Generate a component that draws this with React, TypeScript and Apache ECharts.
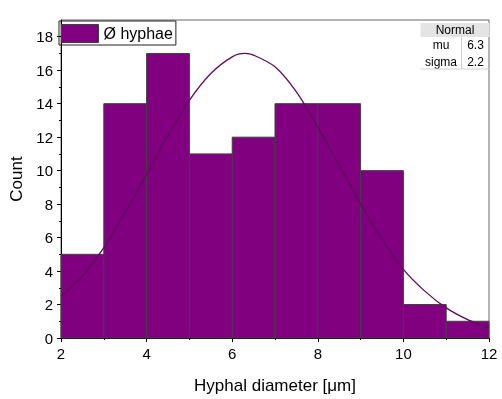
import React, { useEffect, useRef } from "react";
import * as echarts from "echarts";

const binStarts = [2, 3, 4, 5, 6, 7, 8, 9, 10, 11];
const binWidth = 1;
const counts = [5, 14, 17, 11, 12, 14, 14, 10, 2, 1];
const curveX = [2, 2.5, 3, 3.5, 4, 4.5, 5, 5.5, 6, 6.3, 6.5, 7, 7.5, 8, 8.5, 9, 9.5, 10, 10.5, 11, 11.5, 12];
const curveY = [2.5, 3.7, 5.4, 7.5, 9.8, 12.1, 14.2, 15.8, 16.8, 17.0, 16.9, 16.2, 14.7, 12.6, 10.3, 8.0, 5.9, 4.1, 2.8, 1.8, 1.1, 0.6];
const yMajorTicks = [0, 2, 4, 6, 8, 10, 12, 14, 16, 18];
const yMinorTicks = [1, 3, 5, 7, 9, 11, 13, 15, 17];
const seriesName = "Ø hyphae";
const fitName = "Normal";
const fitMu = "6.3";
const fitSigma = "2.2";

const FONT = "Liberation Sans, Arial, sans-serif";
const PURPLE = "#800080";

export default function App() {
  const ref = useRef<HTMLDivElement>(null);
  useEffect(() => {
    if (!ref.current) return;
    const chart = echarts.init(ref.current, null, { renderer: "svg" });
    const barData = binStarts.map((s, i) => [s, s + binWidth, counts[i]]);
    const lineData = curveX.map((x, i) => [x, curveY[i]]);
    const cell = (text: string, x: number, y: number) => ({
      type: "text",
      x,
      y,
      style: { text, fontSize: 12, fill: "#000", align: "center", verticalAlign: "middle", fontFamily: FONT },
    });
    chart.setOption({
      animation: false,
      textStyle: { fontFamily: FONT },
      grid: {
        left: 57,
        right: 13,
        top: 20,
        bottom: 56,
        show: true,
        borderColor: "#666",
        borderWidth: 1,
        backgroundColor: "transparent",
      },
      legend: {
        left: 59,
        top: 21,
        orient: "vertical",
        padding: [3, 3, 2, 2],
        borderColor: "#222",
        borderWidth: 1,
        itemWidth: 37,
        itemHeight: 18,
        textStyle: { fontSize: 16, color: "#000", fontFamily: FONT },
        data: [
          {
            name: seriesName,
            icon: "rect",
            itemStyle: { color: PURPLE, borderColor: "#404040", borderWidth: 1 },
          },
        ],
      },
      xAxis: {
        type: "value",
        min: 2,
        max: 12,
        interval: 2,
        name: "Hyphal diameter [μm]",
        nameLocation: "middle",
        nameGap: 39,
        nameTextStyle: { fontSize: 17, color: "#000", fontFamily: FONT },
        axisLine: { show: true, lineStyle: { color: "#000", width: 1 } },
        axisTick: { show: true, inside: false, length: 4, lineStyle: { color: "#000" } },
        minorTick: { show: true, splitNumber: 2, length: 2, lineStyle: { color: "#000" } },
        axisLabel: { fontSize: 15, color: "#000", margin: 8, fontFamily: FONT },
        splitLine: { show: false },
      },
      yAxis: [
        {
          type: "value",
          min: 0,
          max: 19,
          interval: 2,
          name: "Count",
          nameLocation: "middle",
          nameGap: 36,
          nameTextStyle: { fontSize: 17, color: "#000", fontFamily: FONT },
          axisLine: { show: true, lineStyle: { color: "#000", width: 1 } },
          axisTick: {
            show: true,
            inside: false,
            length: 4,
            customValues: yMajorTicks,
            lineStyle: { color: "#000" },
          },
          axisLabel: {
            fontSize: 15,
            color: "#000",
            margin: 8,
            customValues: yMajorTicks,
            fontFamily: FONT,
          },
          splitLine: { show: false },
        },
        {
          type: "value",
          min: 0,
          max: 19,
          interval: 1,
          position: "left",
          axisLine: { show: false },
          axisTick: {
            show: true,
            inside: false,
            length: 2,
            customValues: yMinorTicks,
            lineStyle: { color: "#000" },
          },
          axisLabel: { show: false },
          splitLine: { show: false },
        },
      ],
      series: [
        {
          name: seriesName,
          type: "custom",
          xAxisIndex: 0,
          yAxisIndex: 0,
          data: barData,
          encode: { x: [0, 1], y: 2 },
          renderItem: (params: any, api: any) => {
            const p0 = api.coord([api.value(0), 0]);
            const p1 = api.coord([api.value(1), api.value(2)]);
            return {
              type: "rect",
              shape: { x: p0[0], y: p1[1], width: p1[0] - p0[0], height: p0[1] - p1[1] },
              style: { fill: PURPLE, stroke: "#404040", lineWidth: 1 },
            };
          },
          z: 2,
        },
        {
          name: fitName,
          type: "line",
          data: lineData,
          smooth: 0.3,
          showSymbol: false,
          symbol: "none",
          lineStyle: { color: "#5e0b5e", width: 1.3 },
          itemStyle: { color: "#5e0b5e" },
          z: 3,
        },
      ],
      graphic: [
        {
          type: "group",
          left: 418,
          top: 23,
          children: [
            { type: "rect", shape: { x: 0, y: 0, width: 69, height: 14 }, style: { fill: "#e4e4e4" } },
            cell(fitName, 34.5, 7),
            cell("mu", 20.5, 21.5),
            cell(fitMu, 55, 21.5),
            cell("sigma", 20.5, 38.5),
            cell(fitSigma, 55, 38.5),
            { type: "line", shape: { x1: 41, y1: 14, x2: 41, y2: 46 }, style: { stroke: "#cfcfcf", lineWidth: 1 } },
            { type: "line", shape: { x1: 0, y1: 46, x2: 69, y2: 46 }, style: { stroke: "#cfcfcf", lineWidth: 1 } },
          ],
        },
      ],
    });
    return () => chart.dispose();
  }, []);
  return <div ref={ref} style={{ position: "fixed", left: 0, top: 0, width: 502, height: 399 }} />;
}
